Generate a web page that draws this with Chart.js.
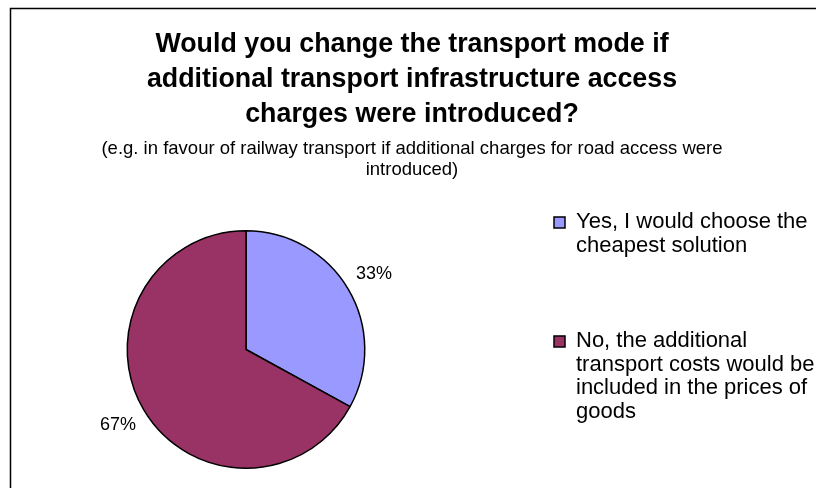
<!DOCTYPE html>
<html>
<head>
<meta charset="utf-8">
<title>Transport mode survey</title>
<script src="https://cdn.jsdelivr.net/npm/chart.js@4/dist/chart.umd.min.js"></script>
<style>
  html, body { margin: 0; padding: 0; background: #fff; overflow: hidden; }
  canvas { display: block; }
</style>
</head>
<body>
<canvas id="modeChart" width="816" height="488"></canvas>
<script>
const FONT = "'Liberation Sans', Arial, sans-serif";

const titleLines = [
    'Would you change the transport mode if',
    'additional transport infrastructure access',
    'charges were introduced?'
];
const subtitleLines = [
    '(e.g. in favour of railway transport if additional charges for road access were',
    'introduced)'
];

// legend text is split into lines the way it wraps on screen
const answers = [
    ['Yes, I would choose the', 'cheapest solution'],
    ['No, the additional', 'transport costs would be', 'included in the prices of', 'goods']
];
const shares = [33, 67];
const sliceColors = ['#9999FF', '#993366'];

// outer frame: only the left and top edges fall inside the canvas
const frame = {
    id: 'frame',
    beforeDraw(chart) {
        const c = chart.ctx;
        c.save();
        c.strokeStyle = '#000';
        c.lineWidth = 1.5;
        c.beginPath();
        c.moveTo(10.5, chart.height);
        c.lineTo(10.5, 8.5);
        c.lineTo(chart.width, 8.5);
        c.stroke();
        c.restore();
    }
};

// percentage labels just outside each slice
const pctLabels = {
    id: 'pctLabels',
    afterDatasetsDraw(chart) {
        const c = chart.ctx;
        const values = chart.data.datasets[0].data;
        const total = values.reduce((a, b) => a + b, 0);
        c.save();
        c.font = '18px ' + FONT;
        c.fillStyle = '#000';
        c.textAlign = 'center';
        c.textBaseline = 'middle';
        chart.getDatasetMeta(0).data.forEach((arc, i) => {
            const p = arc.getProps(['x', 'y', 'startAngle', 'endAngle', 'outerRadius'], true);
            const mid = (p.startAngle + p.endAngle) / 2;
            const r = p.outerRadius + 30;
            const txt = Math.round(values[i] / total * 100) + '%';
            c.fillText(txt, p.x + Math.cos(mid) * r, p.y + Math.sin(mid) * r);
        });
        c.restore();
    }
};

const ctx = document.getElementById('modeChart').getContext('2d');
const chart = new Chart(ctx, {
    type: 'pie',
    data: {
        labels: answers,
        datasets: [{
            data: shares,
            backgroundColor: sliceColors,
            borderColor: '#000',
            borderWidth: 1.5
        }]
    },
    options: {
        responsive: false,
        animation: false,
        layout: { padding: { left: 10, right: 2, top: 0, bottom: 19 } },
        plugins: {
            title: {
                display: true,
                text: titleLines,
                color: '#000',
                font: { family: FONT, size: 26.8, weight: 'bold', lineHeight: 35 / 26.8 },
                padding: { top: 27.5, bottom: 0 }
            },
            subtitle: {
                display: true,
                text: subtitleLines,
                color: '#000',
                font: { family: FONT, size: 18.5, lineHeight: 21 / 18.5 },
                padding: { top: 6, bottom: 49.5 }
            },
            legend: {
                position: 'right',
                align: 'start',
                maxWidth: 332,
                title: { display: true, text: '', padding: { top: 125, bottom: 0 } },
                labels: {
                    color: '#000',
                    boxWidth: 11,
                    boxHeight: 11,
                    padding: 72,
                    font: { family: FONT, size: 22, lineHeight: 23.5 / 22 }
                }
            },
            tooltip: { enabled: false }
        }
    },
    plugins: [frame, pctLabels]
});
</script>
</body>
</html>
